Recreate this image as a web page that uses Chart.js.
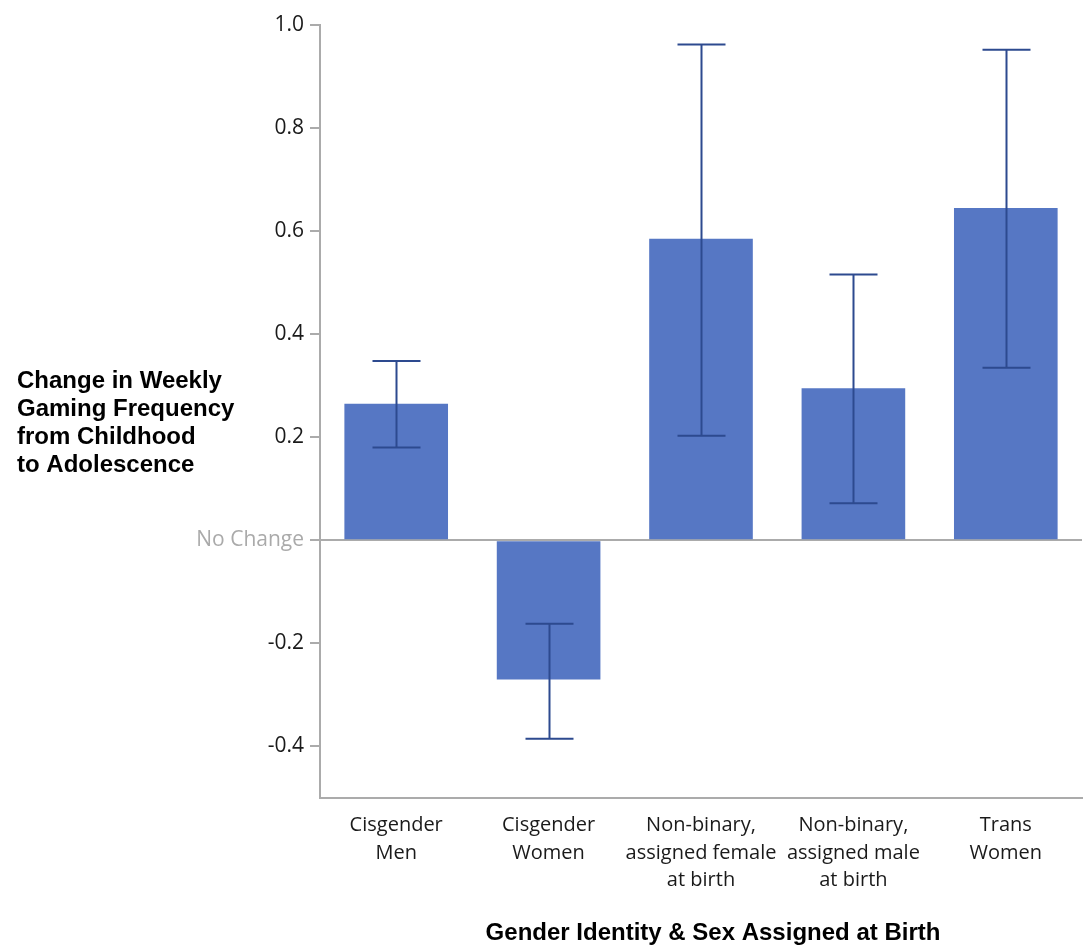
<!DOCTYPE html>
<html>
<head>
<meta charset="utf-8">
<script src="https://cdn.jsdelivr.net/npm/chart.js@4.4.1/dist/chart.umd.min.js"></script>
<style>
  html, body { margin: 0; padding: 0; background: #ffffff; }
  #wrap { position: relative; width: 1084px; height: 946px; }
</style>
</head>
<body>
<div id="wrap"><canvas id="chart" width="1084" height="946"></canvas></div>
<script>
// Group labels (multi-line, as printed under each bar)
const groups = [
  ['Cisgender', 'Men'],
  ['Cisgender', 'Women'],
  ['Non-binary,', 'assigned female', 'at birth'],
  ['Non-binary,', 'assigned male', 'at birth'],
  ['Trans', 'Women']
];
// Mean change in weekly gaming frequency
const meanChange = [0.265, -0.27, 0.585, 0.295, 0.645];
// Confidence interval bounds
const ciLow  = [0.18, -0.385, 0.203, 0.072, 0.335];
const ciHigh = [0.348, -0.162, 0.962, 0.516, 0.952];

const yTitleLines = ['Change in Weekly', 'Gaming Frequency', 'from Childhood', 'to Adolescence'];
const xTitle = 'Gender Identity & Sex Assigned at Birth';
const zeroLabel = 'No Change';

const BAR_COLOR = '#5677c4';
const ERR_COLOR = '#2d4a8f';
const AXIS_GRAY = '#ababab';
const TICK_FONT = "'Open Sans', 'Noto Sans', sans-serif";
const TITLE_FONT = "'Liberation Sans', Arial, sans-serif";

// Draws the interval whiskers on top of each bar
const errorBars = {
  id: 'errorBars',
  afterDatasetsDraw(chart) {
    const { ctx, scales: { y } } = chart;
    const meta = chart.getDatasetMeta(0);
    ctx.save();
    ctx.strokeStyle = ERR_COLOR;
    ctx.lineWidth = 2;
    meta.data.forEach((bar, i) => {
      const x = Math.round(bar.x) + 0.5;
      const yLo = y.getPixelForValue(ciLow[i]);
      const yHi = y.getPixelForValue(ciHigh[i]);
      const cap = 24;
      ctx.beginPath();
      ctx.moveTo(x, yLo); ctx.lineTo(x, yHi);
      ctx.moveTo(x - cap, yLo); ctx.lineTo(x + cap, yLo);
      ctx.moveTo(x - cap, yHi); ctx.lineTo(x + cap, yHi);
      ctx.stroke();
    });
    ctx.restore();
  }
};

// Axis titles: horizontal left-aligned value title, centred category title
const axisTitles = {
  id: 'axisTitles',
  afterDraw(chart) {
    const { ctx } = chart;
    ctx.save();
    ctx.fillStyle = '#000';
    ctx.font = 'bold 24px ' + TITLE_FONT;
    ctx.textBaseline = 'middle';
    ctx.textAlign = 'left';
    yTitleLines.forEach((line, i) => ctx.fillText(line, 17, 381 + i * 28));
    ctx.textAlign = 'center';
    ctx.fillText(xTitle, 713, 933);
    ctx.restore();
  }
};

new Chart(document.getElementById('chart'), {
  type: 'bar',
  data: {
    labels: groups,
    datasets: [{
      data: meanChange,
      backgroundColor: BAR_COLOR,
      borderWidth: 0,
      barPercentage: 0.68,
      categoryPercentage: 1.0
    }]
  },
  options: {
    responsive: false,
    animation: false,
    layout: { padding: { left: 0, right: 2, top: 25, bottom: 0 } },
    plugins: {
      legend: { display: false },
      tooltip: { enabled: false }
    },
    scales: {
      x: {
        grid: { display: false, drawTicks: false },
        border: { display: true, color: AXIS_GRAY, width: 2 },
        ticks: {
          autoSkip: false,
          maxRotation: 0,
          color: '#1a1a1a',
          padding: 14,
          font: { family: TICK_FONT, size: 20, lineHeight: 1.36 }
        },
        afterFit(scale) { scale.height = 148; }
      },
      y: {
        min: -0.5,
        max: 1.0,
        grid: {
          drawOnChartArea: true,
          color: ctx => (ctx.tick && Math.abs(ctx.tick.value) < 1e-9) ? AXIS_GRAY : 'rgba(0,0,0,0)',
          lineWidth: 2,
          tickColor: AXIS_GRAY,
          tickLength: 10,
          tickWidth: 2
        },
        border: { display: true, color: AXIS_GRAY, width: 2 },
        ticks: {
          stepSize: 0.2,
          includeBounds: false,
          padding: 6,
          color: ctx => Math.abs(ctx.tick.value) < 1e-9 ? '#aaaaaa' : '#1a1a1a',
          font: { family: TICK_FONT, size: 21 },
          callback: v => Math.abs(v) < 1e-9 ? zeroLabel : Number(v).toFixed(1)
        },
        afterFit(scale) { scale.width = 320; }
      }
    }
  },
  plugins: [errorBars, axisTitles]
});
</script>
</body>
</html>
